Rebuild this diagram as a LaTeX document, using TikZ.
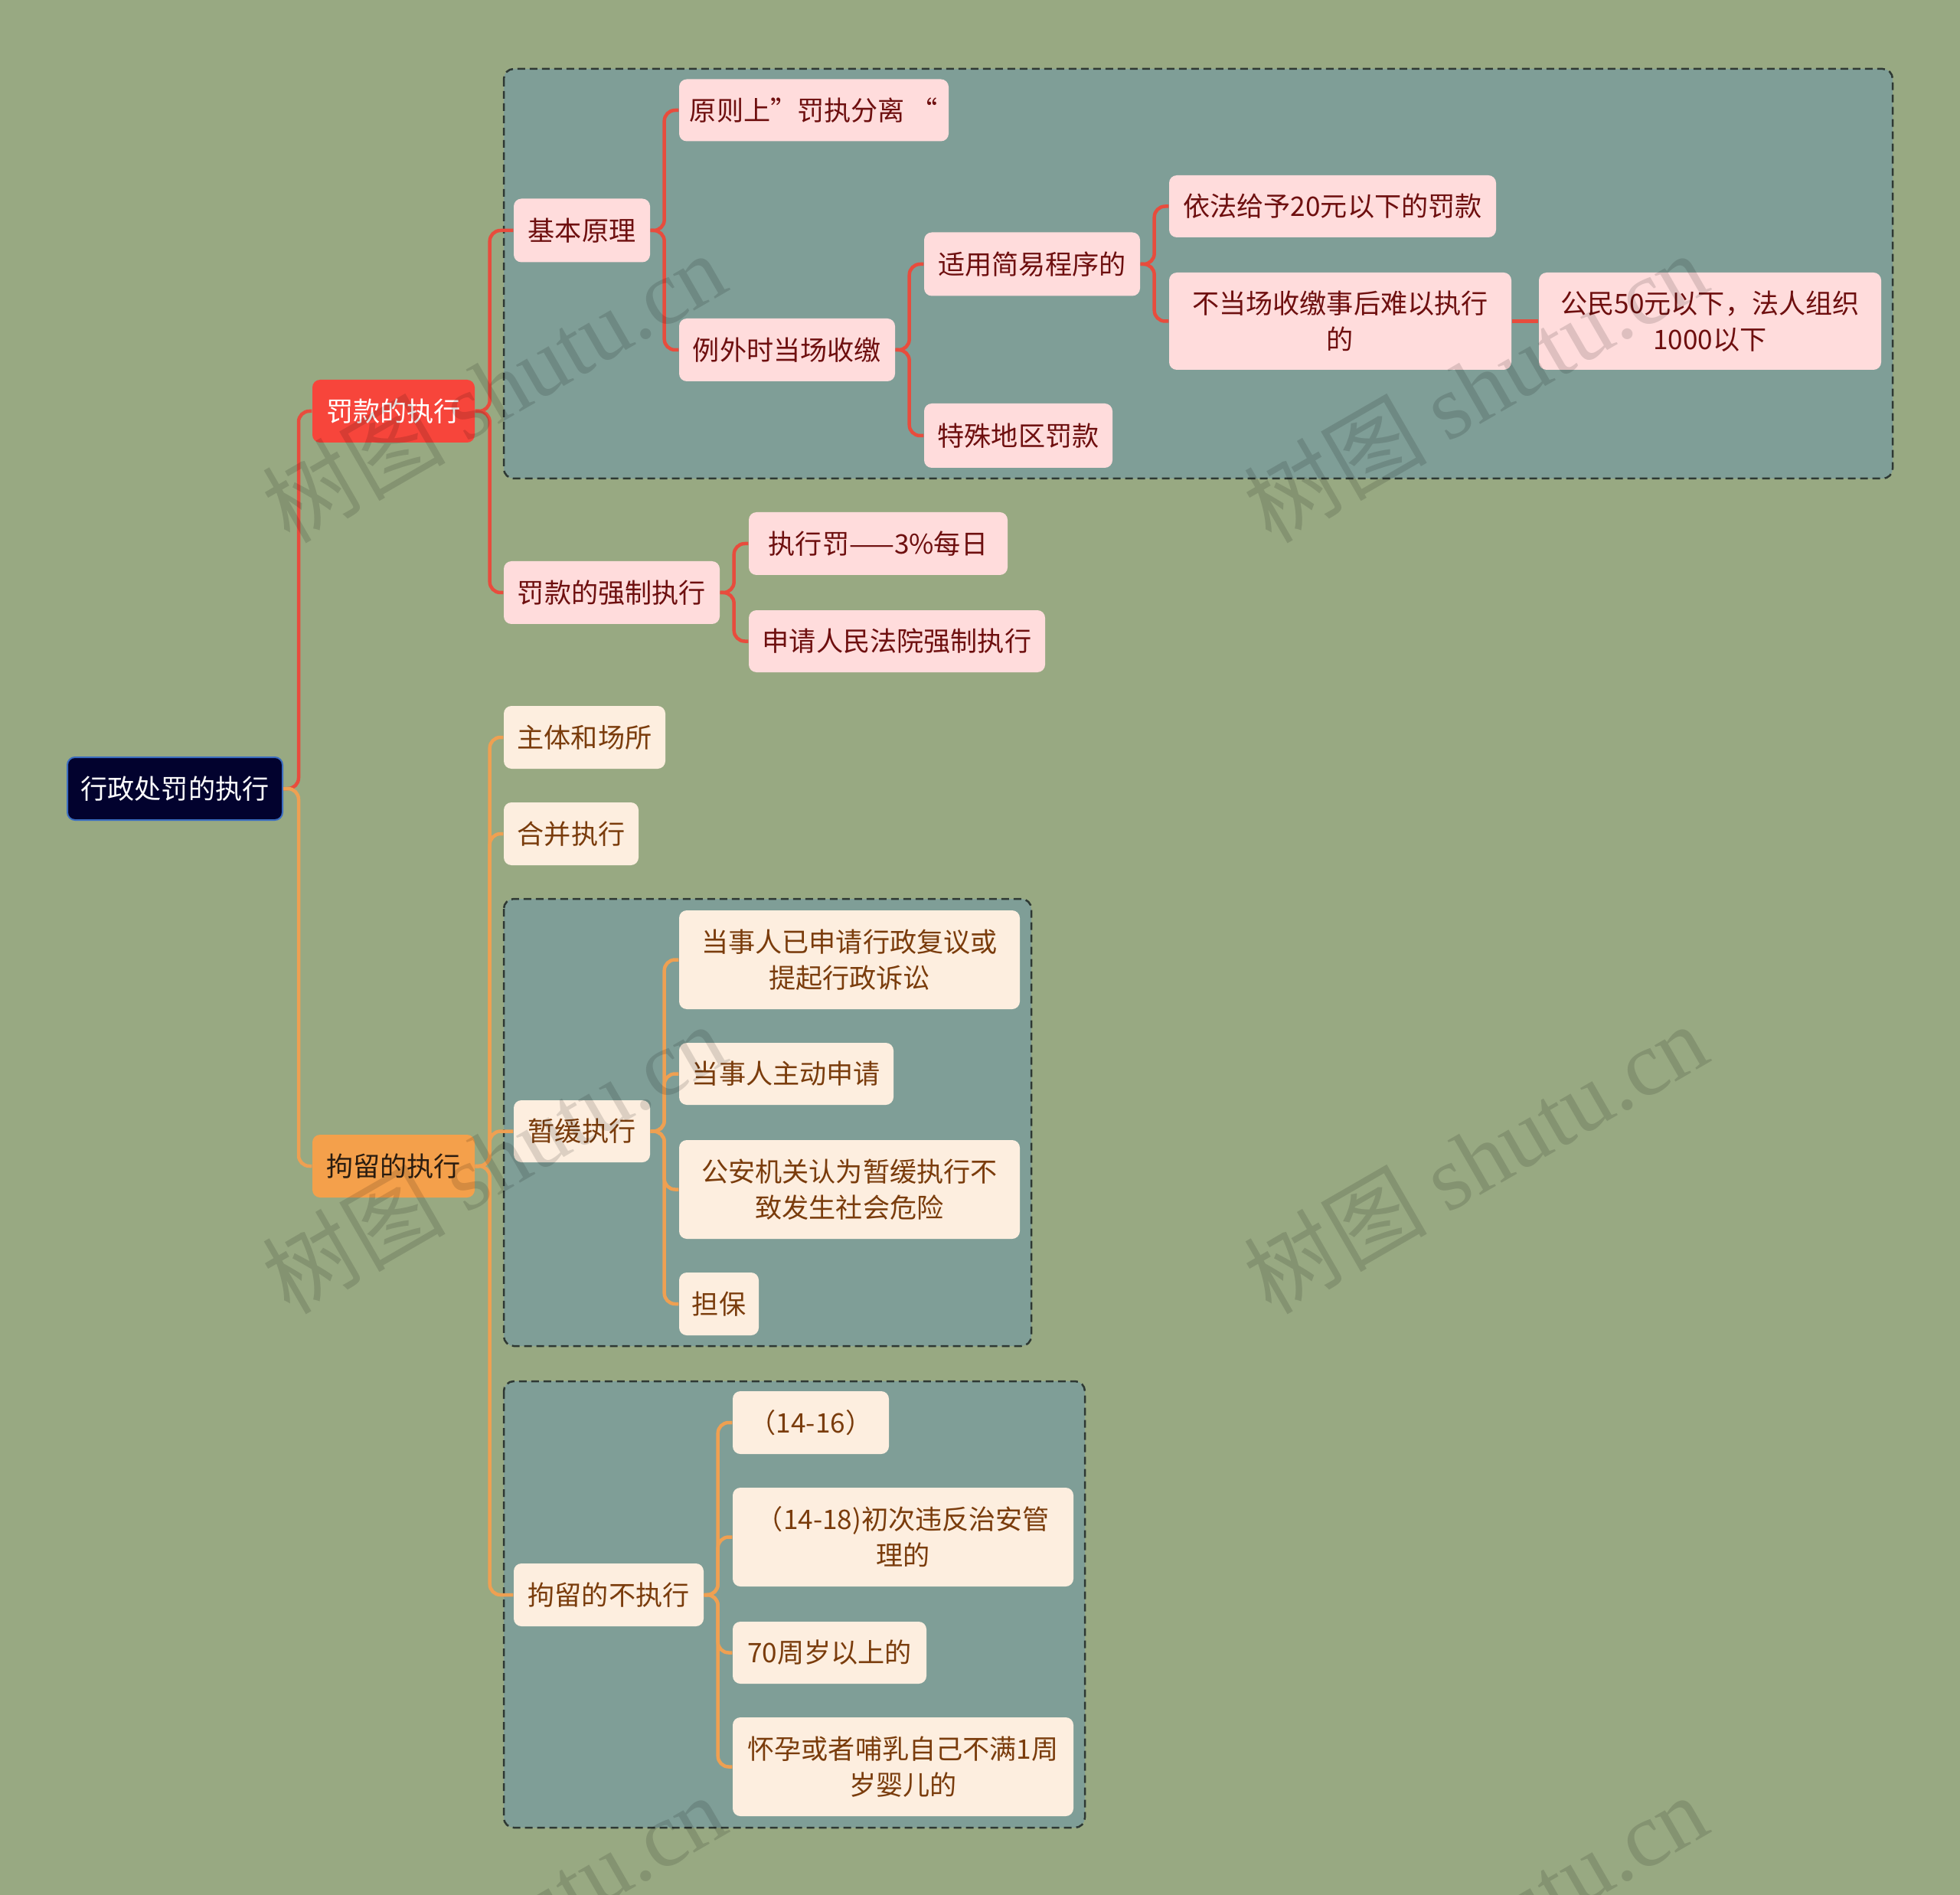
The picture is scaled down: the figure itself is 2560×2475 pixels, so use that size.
\documentclass[tikz,border=0pt]{standalone}
\usepackage{fontspec}
\setmainfont{Noto Sans CJK SC}
\newfontfamily\wmlat{Liberation Serif}
\definecolor{bgc}{HTML}{98A982}
\definecolor{teal}{HTML}{7F9E97}
\definecolor{pinkF}{HTML}{FFDCDC}
\definecolor{pinkT}{HTML}{6E0F0F}
\definecolor{creamF}{HTML}{FDEEDF}
\definecolor{creamT}{HTML}{7A3C0C}
\definecolor{redF}{HTML}{F7453B}
\definecolor{oraF}{HTML}{F4A04B}
\definecolor{oraT}{HTML}{2A1C10}
\definecolor{rootF}{HTML}{02022E}
\definecolor{rootB}{HTML}{3B6DC0}
\definecolor{redL}{HTML}{E84C3D}
\definecolor{oraL}{HTML}{EFA052}
\definecolor{dashC}{HTML}{2E3833}
\tikzset{
  nbase/.style={rounded corners=1mm, inner sep=0pt, align=center, font=\fontsize{10pt}{13.4pt}\selectfont},
  pinkn/.style={nbase, fill=pinkF, text=pinkT},
  creamn/.style={nbase, fill=creamF, text=creamT},
  redn/.style={nbase, fill=redF, text=white},
  oran/.style={nbase, fill=oraF, text=oraT},
  rootn/.style={nbase, fill=rootF, draw=rootB, line width=0.2mm, text=white},
  grp/.style={draw=dashC, fill=teal, line width=0.25mm, dash pattern=on 1mm off 0.6mm, rounded corners=1.3mm},
  redl/.style={draw=redL, line width=0.45mm, rounded corners=1.4mm},
  oral/.style={draw=oraL, line width=0.45mm, rounded corners=1.4mm},
  wm/.style={rotate=30, text=black, text opacity=0.13, font=\fontsize{34pt}{36pt}\selectfont}
}
\begin{document}
\begin{tikzpicture}[x=0.1mm, y=-0.1mm]
\useasboundingbox (0,0) rectangle (2560,2475);
\fill[bgc] (0,0) rectangle (2560,2475);

% group boxes
\path[grp] (658,90) rectangle (2472,625);
\path[grp] (658,1174) rectangle (1347,1758);
\path[grp] (658,1804) rectangle (1417,2387);

% nodes
\node[rootn, minimum width=28.1mm, minimum height=8.2mm] (root) at (228.5,1030) {行政处罚的执行};
\node[redn, minimum width=21.2mm, minimum height=8.2mm] (fk) at (514,537) {罚款的执行};
\node[oran, minimum width=21.2mm, minimum height=8.2mm] (jl) at (514,1523) {拘留的执行};

\node[pinkn, minimum width=17.8mm, minimum height=8.3mm] (jbyl) at (760,301) {基本原理};
\node[pinkn, minimum width=35.2mm, minimum height=8.1mm] (yz) at (1063,144) {原则上”罚执分离 “};
\node[pinkn, minimum width=28.2mm, minimum height=8.2mm] (lw) at (1028,457) {例外时当场收缴};
\node[pinkn, minimum width=28.2mm, minimum height=8.3mm] (sy) at (1348,345) {适用简易程序的};
\node[pinkn, minimum width=24.6mm, minimum height=8.4mm] (ts) at (1330,569) {特殊地区罚款};
\node[pinkn, minimum width=42.7mm, minimum height=8.1mm] (yf) at (1740.5,269.5) {依法给予20元以下的罚款};
\node[pinkn, minimum width=44.7mm, minimum height=12.7mm] (bd) at (1750.5,419.5) {不当场收缴事后难以执行\\的};
\node[pinkn, minimum width=44.7mm, minimum height=12.7mm] (gm) at (2233.5,419.5) {公民50元以下，法人组织\\1000以下};
\node[pinkn, minimum width=28.2mm, minimum height=8.2mm] (qz) at (799,774) {罚款的强制执行};
\node[pinkn, minimum width=33.8mm, minimum height=8.2mm] (zxf) at (1147,710) {执行罚——3\%每日};
\node[pinkn, minimum width=38.7mm, minimum height=8.1mm] (sq) at (1171.5,837.5) {申请人民法院强制执行};

\node[creamn, minimum width=21.1mm, minimum height=8.2mm] (zt) at (763.5,963) {主体和场所};
\node[creamn, minimum width=17.6mm, minimum height=8.2mm] (hb) at (746,1089) {合并执行};
\node[creamn, minimum width=17.8mm, minimum height=8.1mm] (zh) at (760,1477.5) {暂缓执行};
\node[creamn, minimum width=44.5mm, minimum height=12.9mm] (d1) at (1109.5,1253.5) {当事人已申请行政复议或\\提起行政诉讼};
\node[creamn, minimum width=28.0mm, minimum height=8.1mm] (d2) at (1027,1402.5) {当事人主动申请};
\node[creamn, minimum width=44.5mm, minimum height=12.9mm] (d3) at (1109.5,1553.5) {公安机关认为暂缓执行不\\致发生社会危险};
\node[creamn, minimum width=10.4mm, minimum height=8.2mm] (d4) at (939,1703) {担保};
\node[creamn, minimum width=24.8mm, minimum height=8.2mm] (bz) at (795,2083) {拘留的不执行};
\node[creamn, minimum width=20.4mm, minimum height=8.2mm] (e1) at (1059,1858) {（14-16）};
\node[creamn, minimum width=44.5mm, minimum height=12.9mm] (e2) at (1179.5,2007.5) {（14-18)初次违反治安管\\理的};
\node[creamn, minimum width=25.3mm, minimum height=8.1mm] (e3) at (1083.5,2158.5) {70周岁以上的};
\node[creamn, minimum width=44.5mm, minimum height=12.9mm] (e4) at (1179.5,2307.5) {怀孕或者哺乳自己不满1周\\岁婴儿的};

% connectors
\draw[redl] (root.east) -- ++(20,0) |- (fk.west);
\draw[oral] (root.east) -- ++(20,0) |- (jl.west);

\draw[redl] (fk.east) -- ++(19,0) |- (jbyl.west);
\draw[redl] (fk.east) -- ++(19,0) |- (qz.west);
\draw[redl] (jbyl.east) -- ++(18,0) |- (yz.west);
\draw[redl] (jbyl.east) -- ++(18,0) |- (lw.west);
\draw[redl] (lw.east) -- ++(18,0) |- (sy.west);
\draw[redl] (lw.east) -- ++(18,0) |- (ts.west);
\draw[redl] (sy.east) -- ++(18,0) |- (yf.west);
\draw[redl] (sy.east) -- ++(18,0) |- (bd.west);
\draw[redl] (bd.east) -- (gm.west);
\draw[redl] (qz.east) -- ++(18,0) |- (zxf.west);
\draw[redl] (qz.east) -- ++(18,0) |- (sq.west);

\draw[oral] (jl.east) -- ++(19,0) |- (zt.west);
\draw[oral] (jl.east) -- ++(19,0) |- (hb.west);
\draw[oral] (jl.east) -- ++(19,0) |- (zh.west);
\draw[oral] (jl.east) -- ++(19,0) |- (bz.west);
\draw[oral] (zh.east) -- ++(18,0) |- (d1.west);
\draw[oral] (zh.east) -- ++(18,0) |- (d2.west);
\draw[oral] (zh.east) -- ++(18,0) |- (d3.west);
\draw[oral] (zh.east) -- ++(18,0) |- (d4.west);
\draw[oral] (bz.east) -- ++(18,0) |- (e1.west);
\draw[oral] (bz.east) -- ++(18,0) |- (e2.west);
\draw[oral] (bz.east) -- ++(18,0) |- (e3.west);
\draw[oral] (bz.east) -- ++(18,0) |- (e4.west);

% watermarks
\begin{scope}
\clip (0,0) rectangle (2560,2475);
\node[wm] (w1) at (645,505) {树图 {\wmlat shutu.cn}};
\node[wm] (w2) at (1927,505) {树图 {\wmlat shutu.cn}};
\node[wm] (w3) at (645,1512) {树图 {\wmlat shutu.cn}};
\node[wm] (w4) at (1927,1512) {树图 {\wmlat shutu.cn}};
\node[wm] (w5) at (645,2519) {树图 {\wmlat shutu.cn}};
\node[wm] (w6) at (1927,2519) {树图 {\wmlat shutu.cn}};
\end{scope}
\end{tikzpicture}
\end{document}
